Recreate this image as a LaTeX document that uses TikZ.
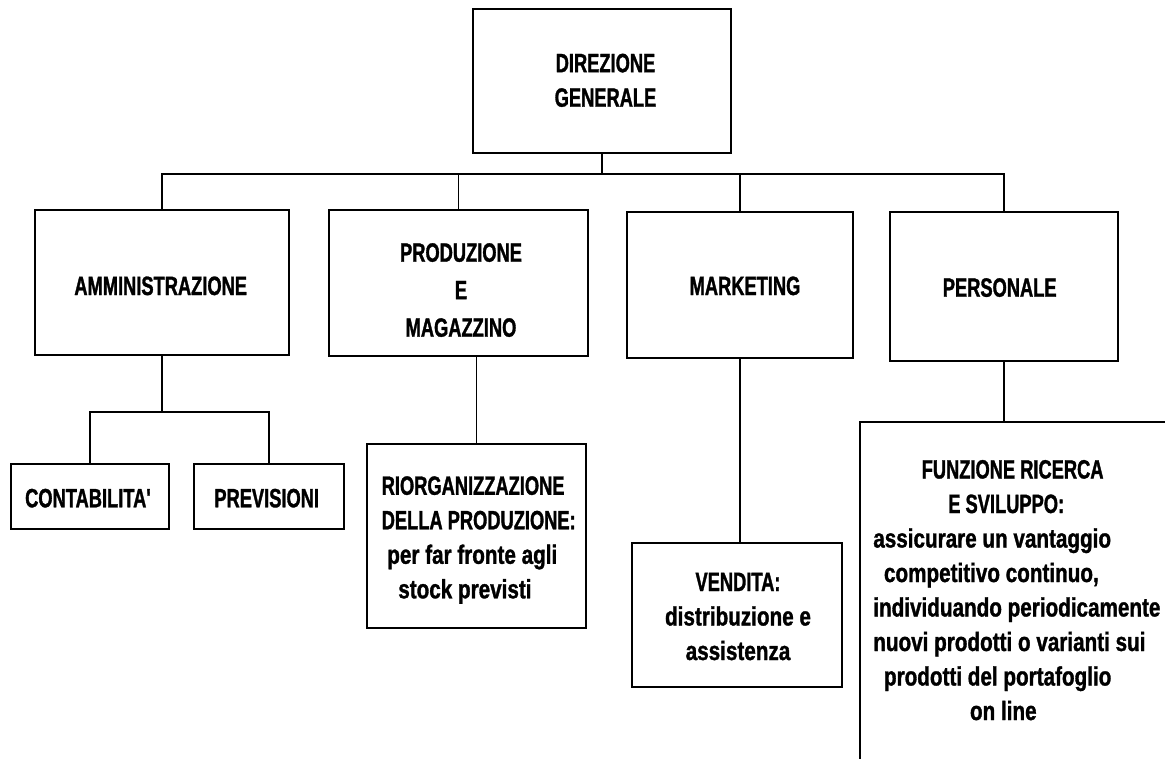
\documentclass[tikz,border=0pt]{standalone}
\usepackage{fontspec}
\newfontfamily\capsfont[FakeStretch=0.69, FakeBold=1.2]{Liberation Sans}
\newfontfamily\lowerfont[FakeStretch=0.78, FakeBold=1.2]{Liberation Sans}
\begin{document}
\begin{tikzpicture}[x=1pt,y=-1pt,
  orgbox/.style={draw=black, line width=1.8pt, rectangle, inner sep=0pt, outer sep=0pt, fill=white},
  orgtext/.style={inner sep=0pt, outer sep=0pt, font=\fontsize{26.5}{34.5}\selectfont\bfseries\capsfont},
  desctext/.style={inner sep=0pt, outer sep=0pt, font=\fontsize{26.5}{34.5}\selectfont\bfseries\lowerfont},
  link/.style={draw=black, line width=1.8pt}]
  \useasboundingbox (0,0) rectangle (1165,758);
  \fill[white] (0,0) rectangle (1165,758);
  \clip (0,0) rectangle (1165,758);

  % boxes
  \node[orgbox, minimum width=258pt, minimum height=144pt] (dir) at (602,81) {};
  \node[orgbox, minimum width=254.3pt, minimum height=145pt] (amm) at (162.15,282.5) {};
  \node[orgbox, minimum width=258.4pt, minimum height=145.7pt] (prod) at (458.5,282.85) {};
  \node[orgbox, minimum width=225.7pt, minimum height=146.6pt] (mark) at (739.85,285) {};
  \node[orgbox, minimum width=228pt, minimum height=149pt] (pers) at (1004.3,286.2) {};
  \node[orgbox, minimum width=158pt, minimum height=65.3pt] (cont) at (90,496.65) {};
  \node[orgbox, minimum width=150.3pt, minimum height=65.3pt] (prev) at (268.85,496.65) {};
  \node[orgbox, minimum width=219pt, minimum height=184pt] (riorg) at (476.5,536.3) {};
  \node[orgbox, minimum width=210pt, minimum height=144pt] (vend) at (737.3,615.3) {};
  \node[orgbox, minimum width=355pt, minimum height=387.7pt] (fun) at (1037.5,616.15) {};

  % connectors
  \coordinate (busrow) at (0,174.3);
  \coordinate (subrow) at (0,412.3);
  \coordinate (bus) at (dir.south |- busrow);
  \draw[link] (dir.south) -- (bus);
  \draw[link] (bus) -| (amm.north);
  \draw[link] (bus) -| (prod.north);
  \draw[link] (bus) -| (mark.north);
  \draw[link] (bus) -| (pers.north);
  \coordinate (sub) at (amm.south |- subrow);
  \draw[link] (amm.south) -- (sub);
  \draw[link] (sub) -| (cont.north);
  \draw[link] (sub) -| (prev.north);
  \draw[link] (riorg.north |- prod.south) -- (riorg.north);
  \draw[link] (mark.south) -- (mark.south |- vend.north);
  \draw[link] (pers.south) -- (pers.south |- fun.north);

  % labels (multi-line labels are placed by the baseline of their last line)
  \node[orgtext, align=center, anchor=base] (dirtxt) at (605.5,106.7) {DIREZIONE\\GENERALE};
  \node[orgtext, anchor=base] (ammtxt) at (160.7,295) {AMMINISTRAZIONE};
  \node[orgtext, align=center, anchor=base,
        font=\fontsize{26.5}{37.5}\selectfont\bfseries\capsfont] (prodtxt) at (461,336.7) {PRODUZIONE\\E\\MAGAZZINO};
  \node[orgtext, anchor=base] (marktxt) at (745,295) {MARKETING};
  \node[orgtext, anchor=base] (perstxt) at (999.7,296.7) {PERSONALE};
  \node[orgtext, anchor=base] (conttxt) at (88.9,507.3) {CONTABILITA\textquotesingle};
  \node[orgtext, anchor=base] (prevtxt) at (266.7,507.3) {PREVISIONI};
  \node[desctext, align=left, anchor=base west] (riorgtxt) at (381.7,598.3)
    {{\capsfont RIORGANIZZAZIONE}\\
     {\capsfont DELLA PRODUZIONE:}\\
     \hspace*{5.6pt}per far fronte agli\\
     \hspace*{16.6pt}stock previsti};
  \node[desctext, align=center, anchor=base] (vendtxt) at (738,660)
    {{\capsfont VENDITA:}\\distribuzione e\\assistenza};
  \node[desctext, align=left, anchor=base west] (funtxt) at (873.3,720)
    {\hspace*{48.4pt}{\capsfont FUNZIONE RICERCA}\\
     \hspace*{75pt}{\capsfont E SVILUPPO:}\\
     assicurare un vantaggio\\
     \hspace*{10.7pt}competitivo continuo,\\
     individuando periodicamente\\
     nuovi prodotti o varianti sui\\
     \hspace*{10.7pt}prodotti del portafoglio\\
     \hspace*{96.7pt}on line};
\end{tikzpicture}
\end{document}
